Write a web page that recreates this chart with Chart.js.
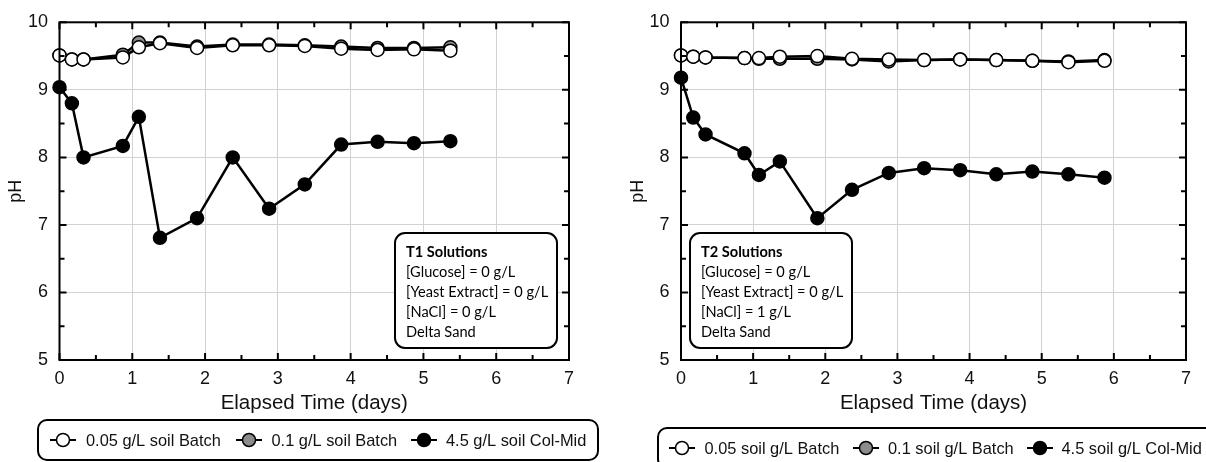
<!DOCTYPE html>
<html><head><meta charset="utf-8">
<script src="https://cdn.jsdelivr.net/npm/chart.js@4.4.1/dist/chart.umd.min.js"></script>
<style>
html,body{margin:0;padding:0;background:#fff;width:1206px;height:462px;overflow:hidden}
.wrap{position:absolute;top:0}
</style></head><body>
<div class="wrap" style="left:0"><canvas id="c1" width="600" height="462"></canvas></div>
<div class="wrap" style="left:600px"><canvas id="c2" width="606" height="462"></canvas></div>
<script>
// ---- Data ----
const timesT1 = [0, 0.17, 0.33, 0.87, 1.09, 1.38, 1.89, 2.38, 2.88, 3.37, 3.87, 4.37, 4.87, 5.37];
const t1Soil005 = [9.51, 9.45, 9.45, 9.48, 9.63, 9.69, 9.62, 9.66, 9.66, 9.65, 9.61, 9.59, 9.60, 9.58];
const t1Soil01  = [9.51, 9.45, 9.45, 9.52, 9.70, 9.70, 9.64, 9.67, 9.67, 9.66, 9.64, 9.62, 9.62, 9.63];
const t1Soil45  = [9.04, 8.80, 8.00, 8.17, 8.60, 6.81, 7.10, 8.00, 7.24, 7.60, 8.19, 8.23, 8.21, 8.24];

const timesT2 = [0, 0.17, 0.34, 0.88, 1.08, 1.37, 1.89, 2.37, 2.88, 3.37, 3.87, 4.37, 4.87, 5.37, 5.87];
const t2Soil005 = [9.51, 9.49, 9.48, 9.47, 9.47, 9.49, 9.50, 9.46, 9.45, 9.44, 9.45, 9.44, 9.43, 9.41, 9.43];
const t2Soil01  = [9.51, 9.49, 9.48, 9.47, 9.46, 9.46, 9.46, 9.45, 9.42, 9.44, 9.45, 9.44, 9.43, 9.42, 9.44];
const t2Soil45  = [9.18, 8.59, 8.34, 8.06, 7.74, 7.94, 7.10, 7.52, 7.77, 7.84, 7.81, 7.75, 7.79, 7.75, 7.70];

const labelsT1 = ["0.05 g/L soil Batch", "0.1 g/L soil Batch", "4.5 g/L soil Col-Mid"];
const labelsT2 = ["0.05 soil g/L Batch", "0.1 soil g/L Batch", "4.5 soil g/L Col-Mid"];
const notesT1 = ["T1 Solutions", "[Glucose] = 0 g/L", "[Yeast Extract] = 0 g/L", "[NaCl] = 0 g/L", "Delta Sand"];
const notesT2 = ["T2 Solutions", "[Glucose] = 0 g/L", "[Yeast Extract] = 0 g/L", "[NaCl] = 1 g/L", "Delta Sand"];
const xTickMin = 0, xTickMax = 7, yTickMin = 5, yTickMax = 10;
const xTitle = "Elapsed Time (days)";
const yTitle = "pH";
const fillColors = ["#ffffff", "#8c8c8c", "#000000"];

const AX_FONT = "'Liberation Sans', Arial, sans-serif";
const NOTE_FONT = "Lato, 'Open Sans', sans-serif";

function rrect(ctx, x, y, w, h, r) {
  ctx.beginPath();
  ctx.moveTo(x + r, y);
  ctx.arcTo(x + w, y, x + w, y + h, r);
  ctx.arcTo(x + w, y + h, x, y + h, r);
  ctx.arcTo(x, y + h, x, y, r);
  ctx.arcTo(x, y, x + w, y, r);
  ctx.closePath();
}

const framePlugin = {
  id: 'frame',
  afterDraw(chart, args, opts) {
    const ctx = chart.ctx;
    const {left, right, top, bottom} = chart.chartArea;
    const xs = chart.scales.x, ys = chart.scales.y;
    ctx.save();
    ctx.strokeStyle = '#000';
    ctx.lineWidth = 2;
    ctx.strokeRect(left, top, right - left, bottom - top);
    ctx.beginPath();
    for (let v = xTickMin; v <= xTickMax + 1e-9; v += 0.5) {
      const px = xs.getPixelForValue(v);
      const len = (Math.abs(v - Math.round(v)) < 1e-6) ? 7 : 5;
      ctx.moveTo(px, bottom); ctx.lineTo(px, bottom - len);
      ctx.moveTo(px, top); ctx.lineTo(px, top + len);
    }
    for (let v = yTickMin; v <= yTickMax + 1e-9; v += 0.5) {
      const py = ys.getPixelForValue(v);
      const len = (Math.abs(v - Math.round(v)) < 1e-6) ? 7 : 5;
      ctx.moveTo(left, py); ctx.lineTo(left + len, py);
      ctx.moveTo(right, py); ctx.lineTo(right - len, py);
    }
    ctx.stroke();

    // annotation box
    const n = opts.note;
    ctx.fillStyle = '#fff';
    rrect(ctx, n.x, n.y, n.w, n.h, 10);
    ctx.fill();
    ctx.lineWidth = 2;
    ctx.stroke();
    ctx.fillStyle = '#000';
    ctx.textBaseline = 'middle';
    ctx.textAlign = 'left';
    n.lines.forEach((t, i) => {
      ctx.font = (i === 0 ? 'bold ' : '') + '14.6px ' + NOTE_FONT;
      ctx.fillText(t, n.x + 11, n.y + 19.5 + i * 20);
    });

    // legend
    const lg = opts.legend;
    rrect(ctx, lg.box[0], lg.box[1], lg.box[2], lg.box[3], 9);
    ctx.fillStyle = '#fff';
    ctx.fill();
    ctx.lineWidth = 2;
    ctx.strokeStyle = '#000';
    ctx.stroke();
    ctx.font = '16.4px ' + AX_FONT;
    chart.data.datasets.forEach((ds, i) => {
      const cx = lg.cx[i], cy = lg.y;
      ctx.beginPath();
      ctx.moveTo(cx - 13, cy); ctx.lineTo(cx + 13, cy);
      ctx.lineWidth = 2;
      ctx.stroke();
      ctx.beginPath();
      ctx.arc(cx, cy, 6.5, 0, Math.PI * 2);
      ctx.fillStyle = ds.pointBackgroundColor;
      ctx.fill();
      ctx.lineWidth = 1.5;
      ctx.stroke();
      ctx.fillStyle = '#111';
      ctx.fillText(ds.label, lg.tx[i], cy + 1);
    });
    ctx.restore();
  }
};

function makeChart(id, times, series, labels, notes, geo) {
  const datasets = series.map((vals, i) => ({
    label: labels[i],
    data: times.map((t, k) => ({x: t, y: vals[k]})),
    borderColor: '#000',
    borderWidth: 2.5,
    pointBackgroundColor: fillColors[i],
    pointBorderColor: '#000',
    pointBorderWidth: 1.5,
    pointRadius: 6.5,
    pointHoverRadius: 6.5,
    tension: 0,
    clip: false
  }));
  return new Chart(document.getElementById(id), {
    type: 'line',
    data: {datasets},
    options: {
      responsive: false,
      animation: false,
      devicePixelRatio: 1,
      layout: {padding: {left: geo.padLeft, right: geo.padRight, top: 21.5, bottom: 42}},
      plugins: {
        legend: {display: false},
        tooltip: {enabled: false},
        frame: {note: Object.assign({lines: notes}, geo.note), legend: geo.legend}
      },
      scales: {
        x: {
          type: 'linear', min: xTickMin, max: xTickMax,
          afterFit: s => { s.height = 60; },
          grid: {color: '#d2d2d2', lineWidth: 1, drawTicks: false},
          border: {display: false},
          ticks: {stepSize: 1, padding: 8.5, color: '#111', font: {family: AX_FONT, size: 18}},
          title: {display: true, text: xTitle, color: '#111', font: {family: AX_FONT, size: 20.5}, padding: {top: 0, bottom: 4}}
        },
        y: {
          type: 'linear', min: yTickMin, max: yTickMax,
          afterFit: s => { s.width = geo.yWidth; },
          grid: {color: '#d2d2d2', lineWidth: 1, drawTicks: false},
          border: {display: false},
          ticks: {stepSize: 1, padding: 11.5, color: '#111', font: {family: AX_FONT, size: 18}},
          title: {display: true, text: yTitle, color: '#111', font: {family: AX_FONT, size: 18}, padding: {top: geo.yTitlePad, bottom: 0}}
        }
      }
    },
    plugins: [framePlugin]
  });
}

makeChart('c1', timesT1, [t1Soil005, t1Soil01, t1Soil45], labelsT1, notesT1, {
  padLeft: 0, yWidth: 59.5, padRight: 31, yTitlePad: 5,
  note: {x: 395, y: 233, w: 162, h: 115},
  legend: {box: [38, 420, 560, 40], cx: [63, 249, 424], tx: [86, 271.5, 446], y: 440}
});
makeChart('c2', timesT2, [t2Soil005, t2Soil01, t2Soil45], labelsT2, notesT2, {
  padLeft: 18, yWidth: 63, padRight: 20, yTitlePad: 9,
  note: {x: 90, y: 233, w: 162, h: 115},
  legend: {box: [58, 428, 600, 40], cx: [82, 266, 440], tx: [104.5, 288, 461.5], y: 448}
});
</script>
</body></html>
